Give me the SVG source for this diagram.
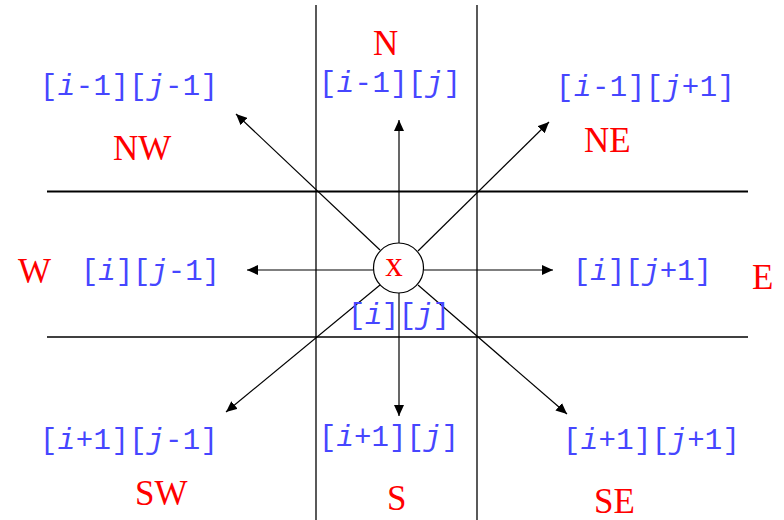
<svg xmlns="http://www.w3.org/2000/svg" width="784" height="520" viewBox="0 0 784 520">
<style>
.idx{font-family:"Liberation Mono","Courier New",monospace;font-size:29px;fill:#4646ff;}
.it{font-style:italic;}
.dir{font-family:"Liberation Serif","Times New Roman",serif;font-size:35px;fill:#ff0000;}
.grid line{stroke:#000;}
.arr line{stroke:#000;stroke-width:1.2;marker-end:url(#ah);}
</style>
<defs>
<marker id="ah" markerWidth="12" markerHeight="10" refX="11" refY="5" orient="auto" markerUnits="userSpaceOnUse">
<path d="M0,0 L11,5 L0,10 Z" fill="#000"/>
</marker>
</defs>
<rect width="784" height="520" fill="#fff"/>
<g id="grid" class="grid">
<line x1="316" y1="5" x2="316" y2="520" stroke-width="1.3"/>
<line x1="477" y1="5" x2="477" y2="520" stroke-width="1.3"/>
<line x1="47" y1="191.5" x2="748" y2="191.5" stroke-width="2"/>
<line x1="47" y1="337" x2="748" y2="337" stroke-width="1.3"/>
</g>
<g id="connectors" class="arr">
<line x1="399" y1="243" x2="399" y2="120"/>
<line x1="399" y1="293" x2="399" y2="416"/>
<line x1="373" y1="270" x2="247" y2="270"/>
<line x1="424" y1="270" x2="553" y2="270"/>
<line x1="380" y1="250" x2="236" y2="114"/>
<line x1="418" y1="251" x2="549" y2="122"/>
<line x1="380" y1="285" x2="226" y2="412"/>
<line x1="418" y1="285" x2="567" y2="414"/>
</g>
<g id="center">
<circle cx="398.5" cy="268" r="25" fill="#fff" stroke="#000" stroke-width="1.2"/>
<text x="394" y="276" class="dir" font-size="38" text-anchor="middle">x</text>
<text class="idx" x="348" y="324" textLength="102" lengthAdjust="spacing">[<tspan class="it">i</tspan>][<tspan class="it">j</tspan>]</text>
</g>
<g id="nw">
<text class="idx" x="40" y="95" textLength="178" lengthAdjust="spacing">[<tspan class="it">i</tspan>-1][<tspan class="it">j</tspan>-1]</text>
<text class="dir" x="113" y="160">NW</text>
</g>
<g id="n">
<text class="dir" x="373" y="55">N</text>
<text class="idx" x="319" y="92" textLength="142" lengthAdjust="spacing">[<tspan class="it">i</tspan>-1][<tspan class="it">j</tspan>]</text>
</g>
<g id="ne">
<text class="idx" x="556" y="96" textLength="179" lengthAdjust="spacing">[<tspan class="it">i</tspan>-1][<tspan class="it">j</tspan>+1]</text>
<text class="dir" x="584" y="152">NE</text>
</g>
<g id="w">
<text class="dir" x="18" y="283">W</text>
<text class="idx" x="81" y="280" textLength="139" lengthAdjust="spacing">[<tspan class="it">i</tspan>][<tspan class="it">j</tspan>-1]</text>
</g>
<g id="e">
<text class="idx" x="573" y="280" textLength="139" lengthAdjust="spacing">[<tspan class="it">i</tspan>][<tspan class="it">j</tspan>+1]</text>
<text class="dir" x="752" y="289">E</text>
</g>
<g id="sw">
<text class="idx" x="40" y="449" textLength="178" lengthAdjust="spacing">[<tspan class="it">i</tspan>+1][<tspan class="it">j</tspan>-1]</text>
<text class="dir" x="135" y="505">SW</text>
</g>
<g id="s">
<text class="idx" x="319" y="446" textLength="140" lengthAdjust="spacing">[<tspan class="it">i</tspan>+1][<tspan class="it">j</tspan>]</text>
<text class="dir" x="387" y="510">S</text>
</g>
<g id="se">
<text class="idx" x="563" y="449" textLength="177" lengthAdjust="spacing">[<tspan class="it">i</tspan>+1][<tspan class="it">j</tspan>+1]</text>
<text class="dir" x="594" y="513">SE</text>
</g>
</svg>
